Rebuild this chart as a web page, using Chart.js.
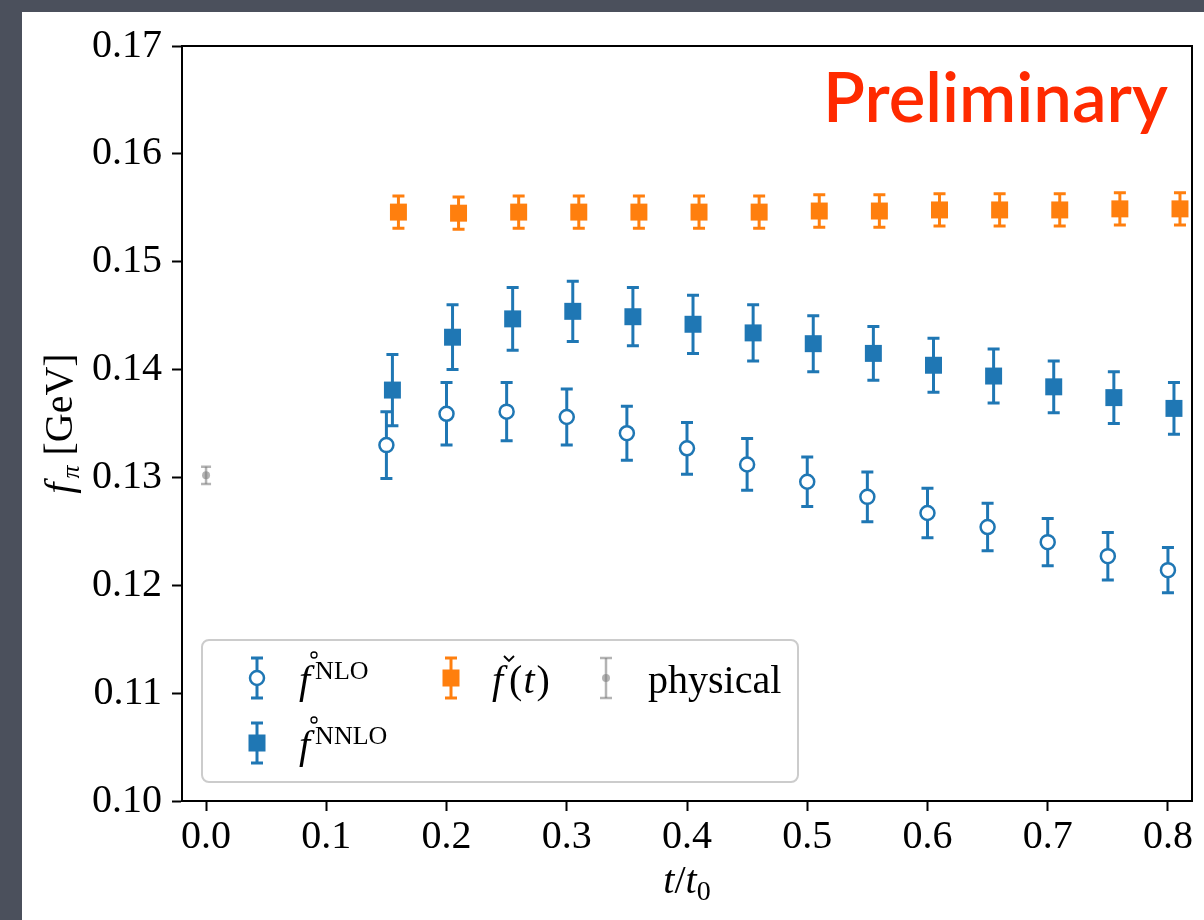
<!DOCTYPE html>
<html>
<head>
<meta charset="utf-8">
<script src="https://cdn.jsdelivr.net/npm/chart.js@4.4.1/dist/chart.umd.min.js"></script>
<style>
  html, body { margin: 0; padding: 0; background: #4b505c; }
  #panel { position: absolute; left: 22px; top: 12px; width: 1182px; height: 908px; background: #fff; }
  canvas { display: block; }
</style>
</head>
<body>
<div id="panel"><canvas id="grafica" width="1182" height="908"></canvas></div>
<script>
// datos
var tNlo   = [0.15, 0.20, 0.25, 0.30, 0.35, 0.40, 0.45, 0.50, 0.55, 0.60, 0.65, 0.70, 0.75, 0.80];
var tNnlo  = [0.155, 0.205, 0.255, 0.305, 0.355, 0.405, 0.455, 0.505, 0.555, 0.605, 0.655, 0.705, 0.755, 0.805];
var tCheck = [0.16, 0.21, 0.26, 0.31, 0.36, 0.41, 0.46, 0.51, 0.56, 0.61, 0.66, 0.71, 0.76, 0.81];

var nlo      = [0.1330, 0.1359, 0.1361, 0.1356, 0.1341, 0.1327, 0.1312, 0.1296, 0.1282, 0.1267, 0.1254, 0.1240, 0.1227, 0.1214];
var nloErr   = [0.0031, 0.0029, 0.0027, 0.0026, 0.0025, 0.0024, 0.0024, 0.0023, 0.0023, 0.0023, 0.0022, 0.0022, 0.0022, 0.0021];
var nnlo     = [0.1381, 0.1430, 0.1447, 0.1454, 0.1449, 0.1442, 0.1434, 0.1424, 0.1415, 0.1404, 0.1394, 0.1384, 0.1374, 0.1364];
var nnloErr  = [0.0033, 0.0030, 0.0029, 0.0028, 0.0027, 0.0027, 0.0026, 0.0026, 0.0025, 0.0025, 0.0025, 0.0024, 0.0024, 0.0024];
var check    = [0.1546, 0.1545, 0.1546, 0.1546, 0.1546, 0.1546, 0.1546, 0.1547, 0.1547, 0.1548, 0.1548, 0.1548, 0.1549, 0.1549];
var checkErr = [0.0015, 0.0015, 0.0015, 0.0015, 0.0015, 0.0015, 0.0015, 0.0015, 0.0015, 0.0015, 0.0015, 0.0015, 0.0015, 0.0015];

var tPhys   = [0.0];
var phys    = [0.1302];
var physErr = [0.0008];

var xTicks = [0.0, 0.1, 0.2, 0.3, 0.4, 0.5, 0.6, 0.7, 0.8];
var yTicks = [0.10, 0.11, 0.12, 0.13, 0.14, 0.15, 0.16, 0.17];

var AZUL = '#1f77b4', NARANJA = '#ff7f0e', GRIS = 'rgba(128,128,128,0.6)';
var SERIF = "'Liberation Serif', 'DejaVu Serif', serif";

function puntos(xs, ys) {
    return xs.map(function (x, i) { return { x: x, y: ys[i] }; });
}

function texto(ctx, str, x, y, size, italic) {
    ctx.font = (italic ? 'italic ' : '') + size + 'px ' + SERIF;
    ctx.fillText(str, x, y);
    return x + ctx.measureText(str).width;
}

function ancho(ctx, str, size, italic) {
    ctx.font = (italic ? 'italic ' : '') + size + 'px ' + SERIF;
    return ctx.measureText(str).width;
}

// barra de error con tapas
function barra(ctx, x, yTop, yBot, cap) {
    ctx.beginPath();
    ctx.moveTo(x, yTop); ctx.lineTo(x, yBot);
    ctx.stroke();
    ctx.beginPath();
    ctx.moveTo(x - cap, yTop); ctx.lineTo(x + cap, yTop);
    ctx.moveTo(x - cap, yBot); ctx.lineTo(x + cap, yBot);
    ctx.stroke();
}

var errorBars = {
    id: 'errorBars',
    beforeDatasetDraw: function (chart, args) {
        var ds = chart.data.datasets[args.index];
        if (!ds.errores) return;
        var ctx = chart.ctx, a = chart.chartArea, ys = chart.scales.y;
        ctx.save();
        ctx.beginPath();
        ctx.rect(a.left, a.top, a.right - a.left, a.bottom - a.top);
        ctx.clip();
        ctx.strokeStyle = ds.errColor;
        ctx.lineWidth = ds.errWidth;
        args.meta.data.forEach(function (pt, i) {
            var v = ds.data[i].y, e = ds.errores[i];
            barra(ctx, pt.x, ys.getPixelForValue(v + e), ys.getPixelForValue(v - e), ds.errCap);
        });
        ctx.restore();
    }
};

function anillo(ctx, x, y) {
    ctx.save();
    ctx.strokeStyle = '#000';
    ctx.lineWidth = 1.3;
    ctx.beginPath();
    ctx.arc(x, y, 3, 0, Math.PI * 2);
    ctx.stroke();
    ctx.restore();
}

function caron(ctx, x, y) {
    ctx.save();
    ctx.strokeStyle = '#000';
    ctx.lineWidth = 1.8;
    ctx.beginPath();
    ctx.moveTo(x - 5, y - 4); ctx.lineTo(x, y + 1); ctx.lineTo(x + 5, y - 4);
    ctx.stroke();
    ctx.restore();
}

var extras = {
    id: 'extras',
    afterDraw: function (chart) {
        var ctx = chart.ctx, a = chart.chartArea;
        ctx.save();
        // marco superior y derecho
        ctx.strokeStyle = '#000';
        ctx.lineWidth = 2;
        ctx.beginPath();
        ctx.moveTo(a.left, a.top); ctx.lineTo(a.right, a.top); ctx.lineTo(a.right, a.bottom);
        ctx.stroke();

        ctx.fillStyle = '#000';
        ctx.textBaseline = 'alphabetic';
        ctx.textAlign = 'left';

        // titulo eje x: t/t0
        var cx = (a.left + a.right) / 2;
        var w = ancho(ctx, 't', 40, true) * 2 + ancho(ctx, '/', 40, false) + ancho(ctx, '0', 28, false);
        var x = cx - w / 2, base = 881;
        x = texto(ctx, 't', x, base, 40, true);
        x = texto(ctx, '/', x, base, 40, false);
        x = texto(ctx, 't', x, base, 40, true);
        texto(ctx, '0', x, base + 7, 28, false);

        // titulo eje y: f_pi [GeV]
        ctx.save();
        ctx.translate(50, (a.top + a.bottom) / 2);
        ctx.rotate(-Math.PI / 2);
        w = ancho(ctx, 'f', 40, true) + 4 + ancho(ctx, 'π', 26, true) + ancho(ctx, ' [GeV]', 40, false);
        x = -w / 2;
        x = texto(ctx, 'f', x, 0, 40, true) + 4;
        x = texto(ctx, 'π', x, 7, 26, true);
        texto(ctx, ' [GeV]', x, 0, 40, false);
        ctx.restore();

        // Preliminary
        ctx.fillStyle = '#ff2a00';
        var fs = 68;
        ctx.font = '600 ' + fs + 'px Lato, "Open Sans", sans-serif';
        fs = fs * 345 / ctx.measureText('Preliminary').width;
        ctx.font = '600 ' + fs.toFixed(1) + 'px Lato, "Open Sans", sans-serif';
        ctx.fillText('Preliminary', 801, 110);

        // leyenda
        var lx = 180, ly = 628, lw = 596, lh = 142;
        ctx.fillStyle = 'rgba(255,255,255,0.8)';
        ctx.strokeStyle = '#cccccc';
        ctx.lineWidth = 2;
        ctx.beginPath();
        ctx.roundRect(lx, ly, lw, lh, 7);
        ctx.fill();
        ctx.stroke();

        var r1 = 666, r2 = 731;
        // NLO
        ctx.strokeStyle = AZUL; ctx.lineWidth = 3;
        barra(ctx, 235, r1 - 20, r1 + 20, 6);
        ctx.fillStyle = '#fff'; ctx.lineWidth = 2.5;
        ctx.beginPath(); ctx.arc(235, r1, 7, 0, Math.PI * 2); ctx.fill(); ctx.stroke();
        // NNLO
        ctx.lineWidth = 3;
        barra(ctx, 235, r2 - 20, r2 + 20, 6);
        ctx.fillStyle = AZUL; ctx.fillRect(226.5, r2 - 8.5, 17, 17);
        // check
        ctx.strokeStyle = NARANJA;
        barra(ctx, 429, r1 - 20, r1 + 20, 6);
        ctx.fillStyle = NARANJA; ctx.fillRect(420.5, r1 - 8.5, 17, 17);
        // physical
        ctx.strokeStyle = GRIS; ctx.lineWidth = 2.5;
        barra(ctx, 584, r1 - 20, r1 + 20, 6);
        ctx.fillStyle = GRIS;
        ctx.beginPath(); ctx.arc(584, r1, 4, 0, Math.PI * 2); ctx.fill();

        ctx.fillStyle = '#000';
        var b1 = 681, b2 = 746;
        x = texto(ctx, 'f', 277, b1, 40, true);
        anillo(ctx, 292, b1 - 38);
        texto(ctx, 'NLO', x + 5, b1 - 14, 26, false);
        x = texto(ctx, 'f', 277, b2, 40, true);
        anillo(ctx, 292, b2 - 38);
        texto(ctx, 'NNLO', x + 5, b2 - 14, 26, false);
        x = texto(ctx, 'f', 470, b1, 40, true);
        caron(ctx, 487, b1 - 33);
        x = texto(ctx, '(', x + 6, b1, 40, false);
        x = texto(ctx, 't', x + 1, b1, 40, true);
        texto(ctx, ')', x + 2, b1, 40, false);
        texto(ctx, 'physical', 626, b1, 40, false);
        ctx.restore();
    }
};

var ctx = document.getElementById('grafica').getContext('2d');
var grafica = new Chart(ctx, {
    type: 'scatter',
    data: {
        datasets: [
            {
                label: 'NLO',
                data: puntos(tNlo, nlo),
                errores: nloErr, errColor: AZUL, errWidth: 3, errCap: 6,
                pointStyle: 'circle', pointRadius: 7, pointBorderWidth: 2.5,
                pointBackgroundColor: '#fff', pointBorderColor: AZUL
            },
            {
                label: 'NNLO',
                data: puntos(tNnlo, nnlo),
                errores: nnloErr, errColor: AZUL, errWidth: 3, errCap: 6,
                pointStyle: 'rect', pointRadius: 12, pointBorderWidth: 0,
                pointBackgroundColor: AZUL, pointBorderColor: AZUL
            },
            {
                label: 'check',
                data: puntos(tCheck, check),
                errores: checkErr, errColor: NARANJA, errWidth: 3, errCap: 6,
                pointStyle: 'rect', pointRadius: 12, pointBorderWidth: 0,
                pointBackgroundColor: NARANJA, pointBorderColor: NARANJA
            },
            {
                label: 'physical',
                data: puntos(tPhys, phys),
                errores: physErr, errColor: GRIS, errWidth: 2.5, errCap: 5,
                pointStyle: 'circle', pointRadius: 4, pointBorderWidth: 0,
                pointBackgroundColor: GRIS, pointBorderColor: GRIS
            }
        ]
    },
    options: {
        responsive: false,
        animation: false,
        devicePixelRatio: 1,
        layout: { padding: { left: 0, top: 34, right: 8, bottom: 0 } },
        plugins: { legend: { display: false }, tooltip: { enabled: false } },
        scales: {
            x: {
                type: 'linear', min: -0.02, max: 0.82,
                afterBuildTicks: function (s) { s.ticks = xTicks.map(function (v) { return { value: v }; }); },
                afterFit: function (s) { s.height = 119; },
                grid: { drawOnChartArea: false, drawTicks: true, tickLength: 10, tickWidth: 2, tickColor: '#000' },
                border: { display: true, color: '#000', width: 2 },
                ticks: {
                    autoSkip: false, maxRotation: 0, padding: 2, color: '#000',
                    font: { family: SERIF, size: 40, lineHeight: 1.2 },
                    callback: function (v) { return v.toFixed(1); }
                }
            },
            y: {
                type: 'linear', min: 0.10, max: 0.17,
                afterBuildTicks: function (s) { s.ticks = yTicks.map(function (v) { return { value: v }; }); },
                afterFit: function (s) { s.width = 160; },
                grid: { drawOnChartArea: false, drawTicks: true, tickLength: 10, tickWidth: 2, tickColor: '#000' },
                border: { display: true, color: '#000', width: 2 },
                ticks: {
                    autoSkip: false, padding: 10, color: '#000',
                    font: { family: SERIF, size: 40, lineHeight: 1.2 },
                    callback: function (v) { return v.toFixed(2); }
                }
            }
        }
    },
    plugins: [errorBars, extras]
});
</script>
</body>
</html>
